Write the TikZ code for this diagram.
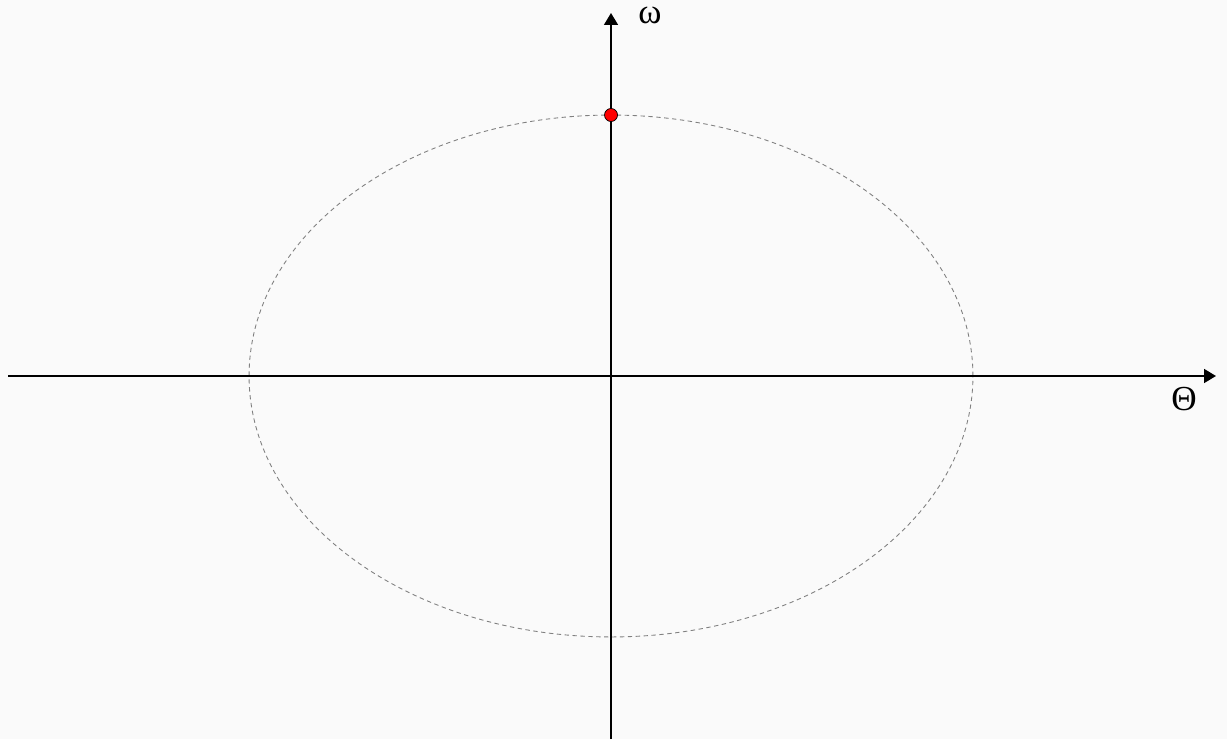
\documentclass[tikz,border=0pt]{standalone}
\usepackage{fontspec}
\setmainfont{Liberation Serif}
\usetikzlibrary{arrows.meta,positioning}
\definecolor{paper}{HTML}{FAFAFA}
\definecolor{orbitgray}{HTML}{808080}

\begin{document}
\begin{tikzpicture}[x=0.02cm,y=-0.02cm,
    axis/.style={line width=0.9pt,-{Triangle[length=0.24cm,width=0.28cm]}},
    orbit/.style={orbitgray,line width=0.5pt,dash pattern=on 2.5pt off 2pt},
    state/.style={circle,draw=black,fill=red,line width=0.4pt,inner sep=0pt,minimum size=0.26cm},
    lbl/.style={font=\fontsize{20}{24}\selectfont,inner sep=0pt}]
  \fill[paper] (0,0) rectangle (1227,739);
  \coordinate (o) at (611,376);
  \coordinate (xs) at (8,376);
  \coordinate (xe) at (1216,376);
  \coordinate (ys) at (611,739);
  \coordinate (ye) at (611,13);
  % phase orbit
  \draw[orbit] (o) ellipse [x radius=7.24cm, y radius=5.22cm];
  \draw[axis] (xs) -- (xe);
  \draw[axis] (ys) -- (ye);
  \node[lbl,text height=1.1ex,text depth=0pt,anchor=base] (omega) at (650,24) {ω};
  \node[lbl] (theta) at (1184,399) {Θ};
  \node[state] (start) at (611,115) {};
\end{tikzpicture}
\end{document}
